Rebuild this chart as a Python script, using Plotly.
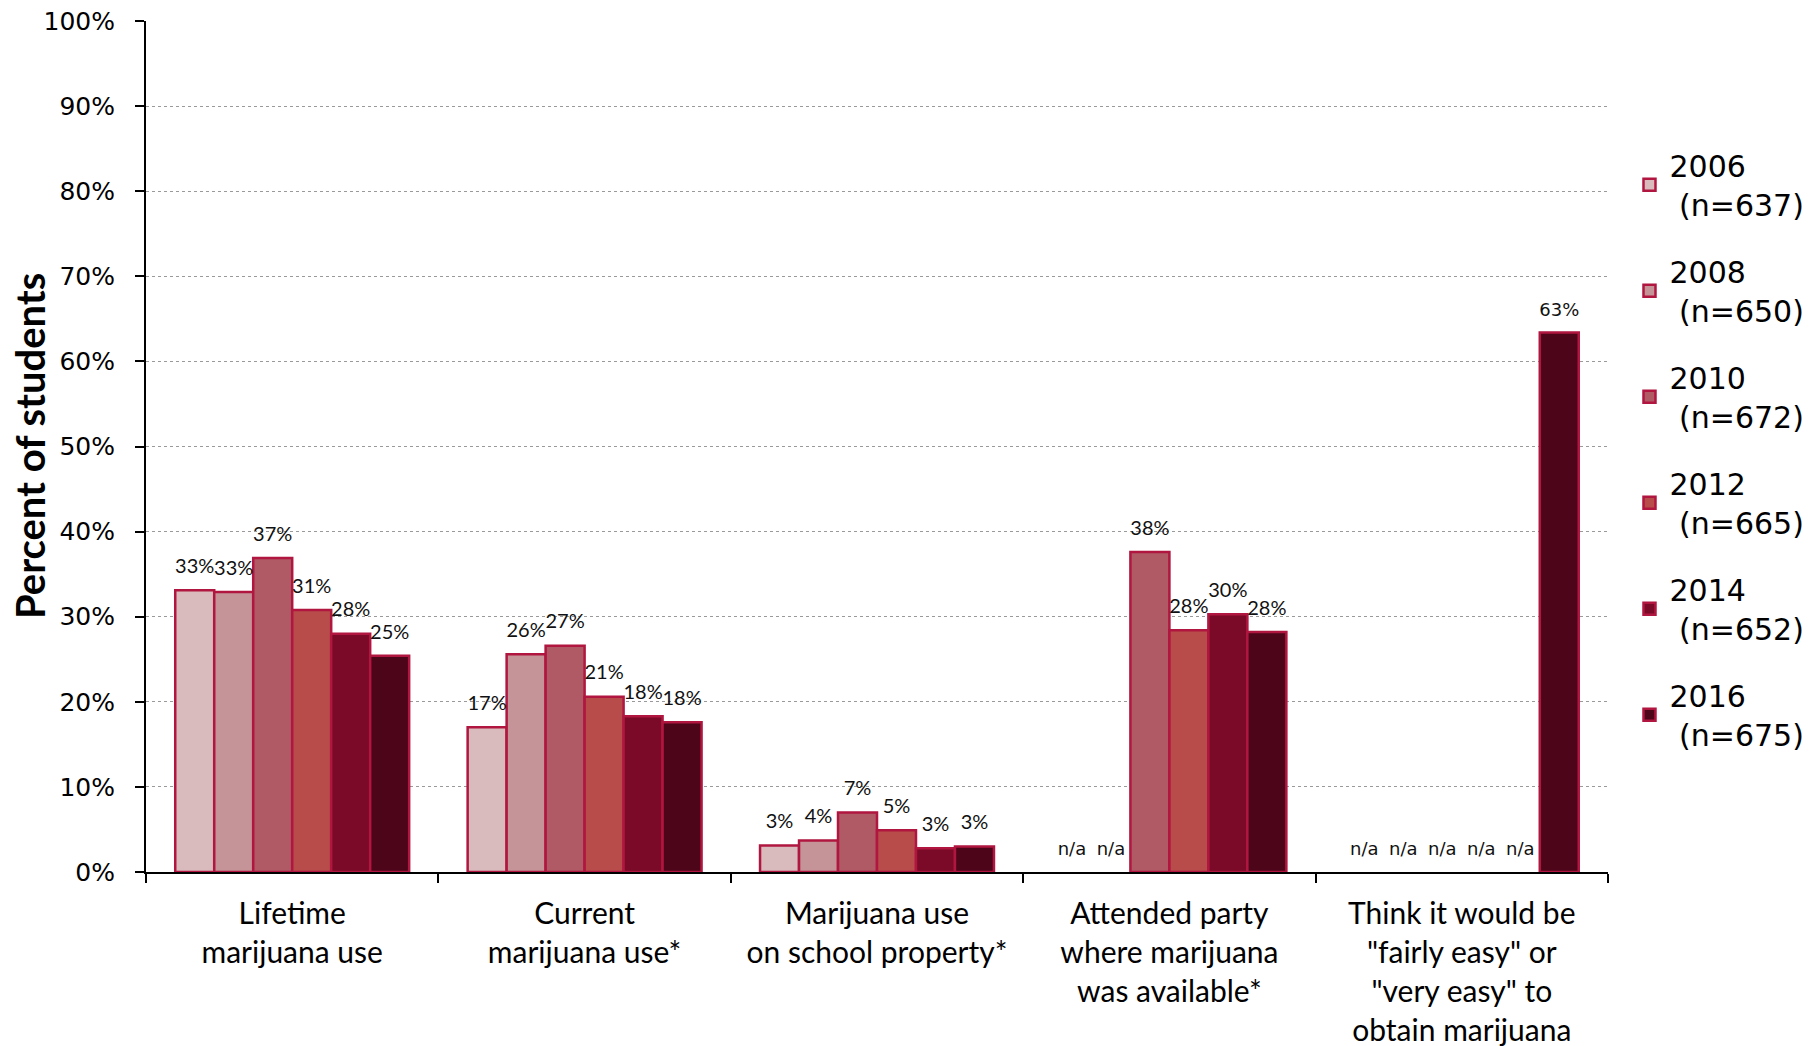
import plotly.graph_objects as go

categories = [
    "Lifetime<br>marijuana use",
    "Current<br>marijuana use*",
    "Marijuana use<br>on school property*",
    "Attended party<br>where marijuana<br>was available*",
    "Think it would be<br>\"fairly easy\" or<br>\"very easy\" to<br>obtain marijuana",
]

years = ["2006", "2008", "2010", "2012", "2014", "2016"]
sample_sizes = ["637", "650", "672", "665", "652", "675"]

v2006 = [33.1, 17.0, 3.1, None, None]
v2008 = [32.9, 25.6, 3.7, None, None]
v2010 = [36.9, 26.6, 7.0, 37.6, None]
v2012 = [30.8, 20.6, 4.9, 28.4, None]
v2014 = [28.0, 18.3, 2.8, 30.3, None]
v2016 = [25.4, 17.6, 3.0, 28.2, 63.4]
series = [v2006, v2008, v2010, v2012, v2014, v2016]

colors = ["#D9BBBE", "#C49498", "#B05A66", "#B84C4A", "#7A0A27", "#4D0519"]
outline = "#B0163F"

y_ticks = [0, 10, 20, 30, 40, 50, 60, 70, 80, 90, 100]
y_ticktext = [f"{t}%" for t in y_ticks]

fig = go.Figure()
for yr, n, vals, col in zip(years, sample_sizes, series, colors):
    fig.add_trace(go.Bar(
        x=categories,
        y=vals,
        name=f"{yr}<br>\u00a0(n={n})",
        legendgroup=yr,
        offsetgroup=yr,
        marker=dict(color=col, line=dict(color=outline, width=2.5)),
        hoverinfo="skip",
    ))

# data labels as text-only scatter traces grouped like the bars
for yr, vals in zip(years, series):
    yv = [v if v is not None else 0 for v in vals]
    txt = [f"{round(v)}%" if v is not None else "n/a" for v in vals]
    fam, size = [], []
    for ci, v in enumerate(vals):
        if v is None or ci == 4:
            fam.append("DejaVu Sans")
            size.append(18)
        else:
            fam.append("Lato")
            size.append(20)
    fig.add_trace(go.Scatter(
        x=categories,
        y=yv,
        mode="markers+text",
        offsetgroup=yr,
        marker=dict(size=18, color="rgba(0,0,0,0)"),
        text=txt,
        textposition="top center",
        textfont=dict(family=fam, size=size, color="#111111"),
        cliponaxis=False,
        showlegend=False,
        hoverinfo="skip",
    ))

fig.update_layout(
    width=1811,
    height=1046,
    paper_bgcolor="white",
    plot_bgcolor="white",
    barmode="group",
    bargap=0.2,
    bargroupgap=0,
    scattermode="group",
    scattergap=0.2,
    margin=dict(l=145.5, r=203, t=20.8, b=174, autoexpand=False),
    font=dict(family="Lato", color="#000000"),
    legend=dict(
        x=1.0147, xref="paper", xanchor="left",
        y=0.861, yanchor="top",
        font=dict(family="DejaVu Sans", size=30, color="#000000"),
        tracegroupgap=25,
        bgcolor="rgba(0,0,0,0)",
    ),
    showlegend=True,
    annotations=[dict(
        text="<b>Percent of students</b>",
        x=0, xref="paper", y=0.5, yref="paper",
        xanchor="center", yanchor="middle",
        xshift=-116.5, textangle=-90, showarrow=False,
        font=dict(family="Lato", size=40, color="#000000"),
    )],
)

fig.update_yaxes(
    range=[0, 100],
    tickvals=y_ticks,
    ticktext=y_ticktext,
    tickfont=dict(family="DejaVu Sans", size=25, color="#000000"),
    ticks="outside", ticklen=9, tickwidth=1.5, tickcolor="#000000",
    ticklabelstandoff=15,
    ticklabeloverflow="allow",
    showline=True, linecolor="#000000", linewidth=2,
    showgrid=True, gridcolor="#9A9A9A", gridwidth=1, griddash="dot",
    zeroline=False,
    automargin=False,
    fixedrange=True,
)

fig.update_xaxes(
    tickfont=dict(family="Lato", size=30, color="#000000"),
    ticks="outside", ticklen=9, tickwidth=1.5, tickcolor="#000000",
    tickson="boundaries",
    ticklabelstandoff=14,
    ticklabeloverflow="allow",
    showline=True, linecolor="#000000", linewidth=2,
    showgrid=False,
    automargin=False,
    fixedrange=True,
)

fig.write_html(
    "out.html",
    config={"displayModeBar": False},
    post_script="document.body.style.margin='0';document.body.style.overflow='hidden';",
)
